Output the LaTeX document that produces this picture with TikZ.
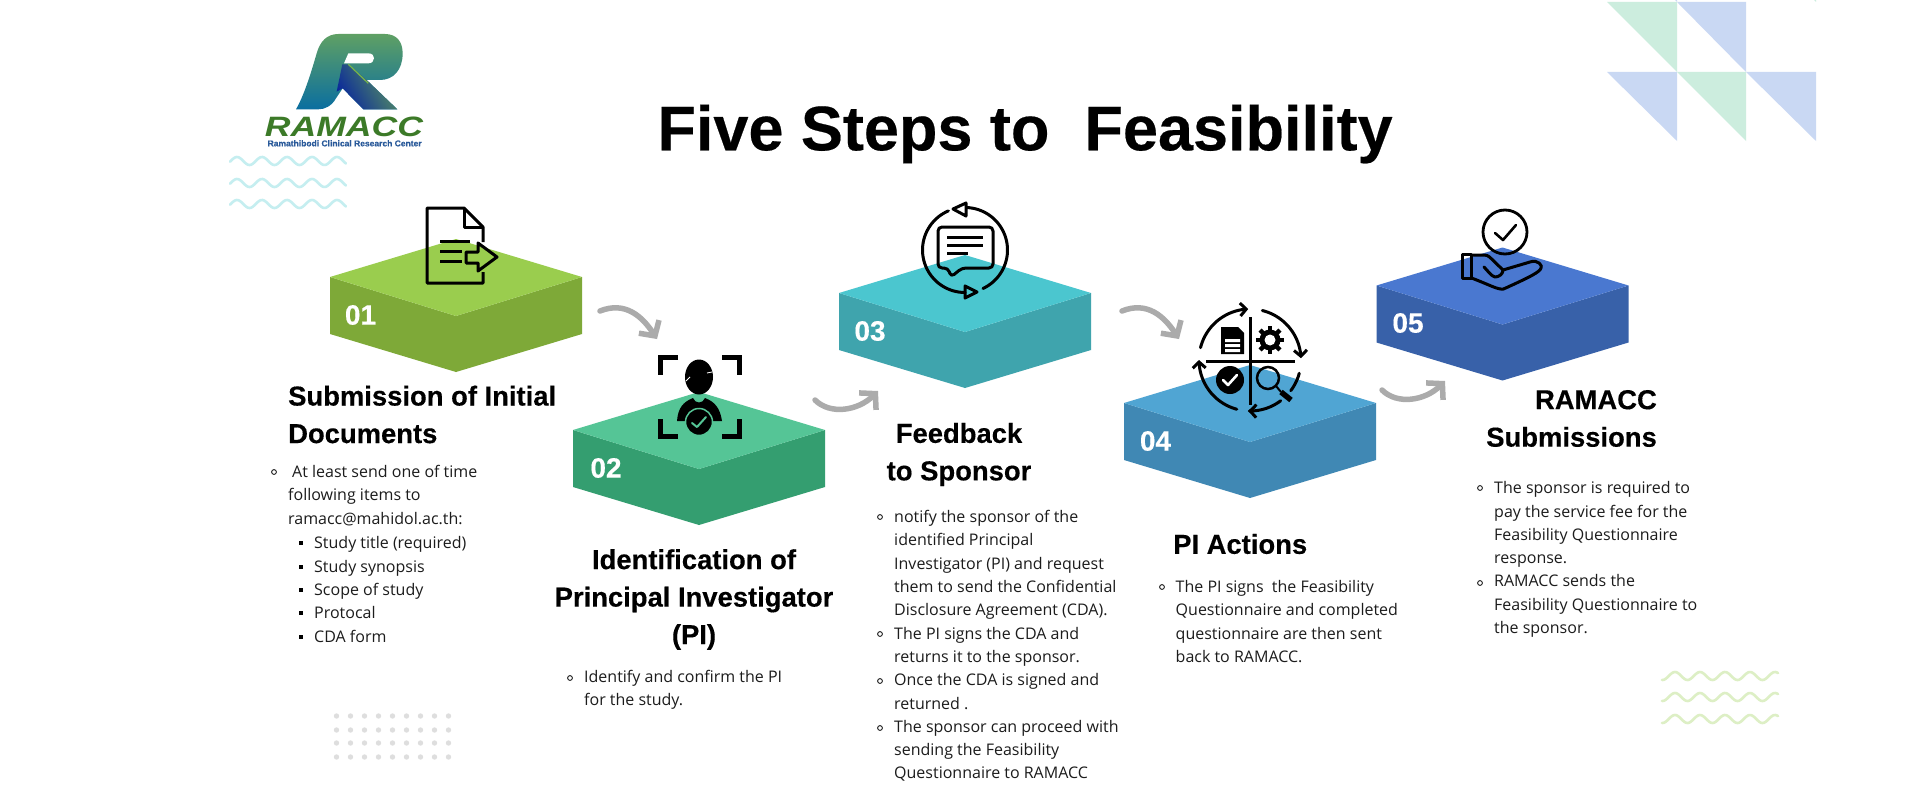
\documentclass[tikz,border=0pt]{standalone}
\usepackage{fontspec}
\setmainfont{Open Sans}
\newfontfamily\headfont[BoldFeatures={FakeBold=0.35}]{Liberation Sans}
\usetikzlibrary{arrows.meta}
\definecolor{gtop}{HTML}{9ACD4E}\definecolor{gside}{HTML}{7EA938}
\definecolor{ttop}{HTML}{55C596}\definecolor{tside}{HTML}{349E70}
\definecolor{ctop}{HTML}{4BC6CF}\definecolor{cside}{HTML}{3FA4AD}
\definecolor{ltop}{HTML}{50A5D3}\definecolor{lside}{HTML}{4088B4}
\definecolor{btop}{HTML}{4A78D0}\definecolor{bside}{HTML}{3861A9}
\definecolor{arrowc}{HTML}{ABABAB}\definecolor{bodyc}{HTML}{1C1C1C}
\definecolor{triG}{HTML}{CCEDDE}\definecolor{triB}{HTML}{C9D8F3}
\definecolor{waveC}{HTML}{C5EEF0}\definecolor{waveG}{HTML}{DDEFC5}
\definecolor{dotc}{HTML}{DEDEDE}\definecolor{logoG}{HTML}{3C7A28}\definecolor{logoB}{HTML}{2A5A9A}
\definecolor{rTop}{HTML}{5FA064}\definecolor{rBot}{HTML}{0A6EA0}
\definecolor{legA}{HTML}{5A965F}\definecolor{legB}{HTML}{0A289B}\definecolor{legL}{HTML}{78B648}
\tikzset{
  body/.style={font=\fontsize{16}{23.3}\selectfont,align=left,inner sep=0pt,anchor=west,text=bodyc},
  head/.style={font=\headfont\bfseries\fontsize{27.4}{37.5}\selectfont,inner sep=0pt,text=black},
  numlab/.style={font=\headfont\bfseries\fontsize{28}{28}\selectfont,inner sep=0pt,text=white},
  flow/.style={draw=arrowc,line width=5.5pt,line cap=round,-{Straight Barb[length=11pt,width=24pt]}},
  ico/.style={draw=black,line width=3pt,line join=round},
  icoR/.style={draw=black,line width=3pt,line cap=round,line join=round},
}
\newcommand\isoblock[4]{%
  \fill[#4] ({#1-126},#2) -- (#1,{#2+39}) -- ({#1+126},#2) -- ({#1+126},{#2+57}) -- (#1,{#2+95}) -- ({#1-126},{#2+57}) -- cycle;
  \fill[#3] ({#1-126},#2) -- (#1,{#2-38}) -- ({#1+126},#2) -- (#1,{#2+39}) -- cycle;
}
\newcommand\ringb[2]{\draw[bodyc,line width=0.9pt] (#1,#2) circle[radius=2.4pt];}
\newcommand\sqb[2]{\fill[black] ({#1-2.4},{#2-2.4}) rectangle ({#1+2.4},{#2+2.4});}
\newcommand\wave[4]{\draw[#4,line width=2.6pt,line cap=round] plot[domain=0:116,samples=90,smooth] ({#1+\x},{#2-4*cos(14.4*(\x+#3))});}
\newcommand\cyc[4][]{\draw[icoR,#1] plot[domain=#2:#3,samples=30] ({#4+51*cos(\x)},{360-51*sin(\x)});}
\begin{document}
\begin{tikzpicture}[x=1pt,y=-1pt]
\useasboundingbox (0,0) rectangle (1920,800);
\fill[white] (0,0) rectangle (1920,800);
% decorative triangles
\fill[triG] (1607,2) -- (1677,2) -- (1677,72) -- cycle;
\fill[triB] (1677,2) -- (1746,2) -- (1746,72) -- cycle;
\fill[triB] (1607,72) -- (1677,72) -- (1677,141) -- cycle;
\fill[triG] (1677,72) -- (1746,72) -- (1746,141) -- cycle;
\fill[triB] (1746,72) -- (1816,72) -- (1816,141) -- cycle;
\fill[triB] (1675,0) -- (1677,0) -- (1677,2) -- cycle;
\fill[triG] (1814,0) -- (1816,0) -- (1816,2) -- cycle;
% waves
\foreach \yy in {161,183,204}{\wave{230}{\yy}{-7}{waveC}}
\foreach \yy in {676,697,719}{\wave{1662}{\yy}{-13}{waveG}}
% dots
\foreach \xx in {0,...,8}{\foreach \yy in {716,730,743,757}{\fill[dotc] ({336.5+14*\xx},\yy) circle[radius=2.7pt];}}
% logo
\begin{scope}[shift={(220,20)},x=0.33333pt,y=-0.33333pt]
\shade[top color=rTop,bottom color=rBot]
  (228,268) .. controls (250,230) and (270,170) .. (290,100) .. controls (300,65) and (320,42) .. (355,42) -- (495,42) .. controls (530,42) and (548,65) .. (548,100) .. controls (548,150) and (520,180) .. (480,180) -- (440,180) -- (532,268) -- (430,268) -- (368,205) -- (348,235) .. controls (335,258) and (315,268) .. (295,268) -- cycle;
\shade[left color=legA,right color=legB,shading angle=-60]
  (385,133) -- (440,180) -- (532,268) -- (430,268) -- (368,205) -- (350,215) -- (367,133) -- cycle;
\draw[line width=1.2pt,legL] (385,133) -- (445,190);
\fill[white] (385,100) -- (445,100) .. controls (458,100) and (462,108) .. (462,115) .. controls (462,124) and (455,130) .. (445,130) -- (372,130) -- cycle;
\node[inner sep=0pt,text=logoG,font=\headfont\bfseries\itshape\fontsize{28}{28}\selectfont] (logoword) at (372,322) {\scalebox{1.27}[1]{RAMACC}};
\node[inner sep=0pt,text=logoB,font=\headfont\bfseries\fontsize{8.5}{9}\selectfont] (logosub) at (374,370) {Ramathibodi Clinical Research Center};
\end{scope}
% title
\node[inner sep=0pt,font=\headfont\bfseries\fontsize{63}{63}\selectfont] (title) at (1025,134) {Five Steps to\ \ Feasibility};
% blocks
\isoblock{456}{277}{gtop}{gside}
\isoblock{699}{430}{ttop}{tside}
\isoblock{965}{293}{ctop}{cside}
\isoblock{1250}{403}{ltop}{lside}
\isoblock{1502.5}{285.5}{btop}{bside}
\node[numlab] (n1) at (360.5,315) {01};
\node[numlab] (n2) at (606,468) {02};
\node[numlab] (n3) at (870,331) {03};
\node[numlab] (n4) at (1155.5,441) {04};
\node[numlab] (n5) at (1408,323) {05};
% connectors
\coordinate (a1s) at (600,311); \coordinate (a1e) at (657,339);
\coordinate (a2s) at (815,400); \coordinate (a2e) at (878,391);
\coordinate (a3s) at (1122,311); \coordinate (a3e) at (1179,339);
\coordinate (a4s) at (1382,390); \coordinate (a4e) at (1445,381);
\draw[flow] (a1s) .. controls (625,301) and (642,316) .. (a1e);
\draw[flow] (a2s) .. controls (830,415) and (858,411) .. (a2e);
\draw[flow] (a3s) .. controls (1147,301) and (1164,316) .. (a3e);
\draw[flow] (a4s) .. controls (1397,405) and (1425,401) .. (a4e);
% icon 1: document
\draw[ico] (483,242) -- (483,227) -- (464,208) -- (427,208) -- (427,283) -- (483,283) -- (483,272);
\draw[ico] (464,208) -- (464,227) -- (483,227);
\draw[ico] (440,241) -- (470,241) (440,251) -- (462,251) (440,261) -- (462,261);
\draw[ico] (466,252) -- (478,252) -- (478,243) -- (497,257) -- (478,271) -- (478,263) -- (466,263) -- cycle;
% icon 2: person
\draw[black,line width=5pt] (678,357.5) -- (660.5,357.5) -- (660.5,375);
\draw[black,line width=5pt] (722,357.5) -- (739.5,357.5) -- (739.5,375);
\draw[black,line width=5pt] (660.5,419) -- (660.5,436.5) -- (678,436.5);
\draw[black,line width=5pt] (739.5,419) -- (739.5,436.5) -- (722,436.5);
\fill[black] (699,377) ellipse[x radius=14pt,y radius=17.5pt];
\draw[white,line width=0.8pt] (686,381) -- (690,377);
\draw[white,line width=0.8pt] (707,373) -- (712,372);
\fill[black] (677,421) .. controls (678,408) and (683,402) .. (693,398) .. controls (695,404) and (703,404) .. (705,398) .. controls (715,402) and (720,408) .. (722,421) -- cycle;
\draw[ttop,fill=black,line width=1.5pt] (699,422) circle[radius=13.5pt];
\draw[ttop,line width=2pt,line cap=round,line join=round] (692,423) -- (697,427) -- (706,417);
% icon 3: chat
\draw[icoR] plot[domain=113:270,samples=40] ({965+42.5*cos(\x)},{250-42.5*sin(\x)});
\draw[icoR] plot[domain=-65:88,samples=40] ({965+42.5*cos(\x)},{250-42.5*sin(\x)});
\draw[ico] (966,203) -- (966,216) -- (953,209) -- cycle;
\draw[ico] (965,286) -- (965,298) -- (977,292) -- cycle;
\draw[ico,rounded corners=4pt] (938,227) -- (993,227) -- (993,268) -- (962,268) -- (951,277) -- (948,268) -- (938,268) -- cycle;
\draw[ico] (947,237) -- (983,237) (947,245) -- (983,245) (947,253) -- (968,253);
% icon 4: cycle
\draw[black,line width=3pt] (1250,317) -- (1250,405) (1206,361) -- (1295,361);
\cyc[-{Straight Barb[length=6pt,width=13pt]}]{166}{92}{1250}
\cyc[-{Straight Barb[length=6pt,width=13pt]}]{76}{2}{1250}
\cyc{-15}{-37}{1250}
\cyc[-{Straight Barb[length=6pt,width=13pt]}]{-53}{-92}{1250}
\cyc[-{Straight Barb[length=6pt,width=13pt]}]{-105}{-180}{1250}
\fill[black] (1221,327) -- (1238,327) -- (1244,333) -- (1244,354) -- (1221,354) -- cycle;
\fill[white] (1225,339) rectangle (1240,342) (1225,344) rectangle (1240,347) (1225,349) rectangle (1240,352);
\fill[black] (1270,340) circle[radius=10.5pt];
\foreach \aa in {0,45,...,315}{\draw[black,line width=4.5pt] (1270,340) -- ({1270+14*cos(\aa)},{340+14*sin(\aa)});}
\fill[white] (1270,340) circle[radius=5.5pt];
\fill[black] (1230,380) circle[radius=14pt];
\draw[white,line width=2.6pt,line cap=round,line join=round] (1223,380) -- (1228,385) -- (1237,375);
\draw[black,line width=2.5pt] (1268,378) circle[radius=11pt];
\draw[black,line width=2pt] (1276,386) -- (1281,392);
\draw[black,line width=5.5pt] (1281,392) -- (1291,400);
% icon 5: hand
\draw[black,line width=2.8pt] (1505,232) circle[radius=22pt];
\draw[icoR,line width=2.6pt] (1495,233) -- (1503,240) -- (1516,225);
\draw[ico] (1462.5,254) rectangle (1471.5,278);
\draw[ico,rounded corners=3pt] (1471.5,255) -- (1487.5,255) -- (1504,271);
\draw[icoR] (1484,267) .. controls (1488,271) and (1491,276) .. (1495,277) .. controls (1499,277) and (1503,274) .. (1503,270) -- (1530,262) .. controls (1538,259) and (1543,266) .. (1541,268) .. controls (1540,272) and (1530,277) .. (1503.5,289) .. controls (1498,290) and (1490,285) .. (1471.5,278);
% headings
\node[head,anchor=west,align=left] (h1) at (288,414.5) {Submission of Initial\\Documents};
\node[head,align=center] (h2) at (694,599.5) {Identification of\\Principal Investigator\\(PI)};
\node[head,align=center] (h3) at (959,454.5) {Feedback\\to Sponsor};
\node[head,anchor=west] (h4) at (1173,544) {PI Actions};
\node[head,anchor=east,align=right] (h5) at (1657,418.5) {RAMACC\\Submissions};
% body 1
\ringb{274}{472}
\node[body] (b1) at (288,495.5) {\hspace*{4pt}At least send one of time\\following items to\\ramacc@mahidol.ac.th:};
\foreach \yy in {543,567,590,613,637}{\sqb{301}{\yy}}
\node[body] (b1s) at (314,589.5) {Study title (required)\\Study synopsis\\Scope of study\\Protocal\\CDA form};
% body 2
\ringb{570}{678}
\node[body] (b2) at (584,690) {Identify and confirm the PI\\for the study.};
% body 3
\ringb{880}{517}\ringb{880}{634}\ringb{880}{681}\ringb{880}{728}
\node[body] (b3) at (894,646) {notify the sponsor of the\\identified Principal\\Investigator (PI) and request\\them to send the Confidential\\Disclosure Agreement (CDA).\\The PI signs the CDA and\\returns it to the sponsor.\\Once the CDA is signed and\\returned .\\The sponsor can proceed with\\sending the Feasibility\\Questionnaire to RAMACC};
% body 4
\ringb{1162}{587}
\node[body] (b4) at (1175.5,621.5) {The PI signs\ \ the Feasibility\\Questionnaire and completed\\questionnaire are then sent\\back to RAMACC.};
% body 5
\ringb{1480}{488}\ringb{1480}{583}
\node[body] (b5) at (1494,559.5) {The sponsor is required to\\pay the service fee for the\\Feasibility Questionnaire\\response.\\RAMACC sends the\\Feasibility Questionnaire to\\the sponsor.};
\end{tikzpicture}
\end{document}
